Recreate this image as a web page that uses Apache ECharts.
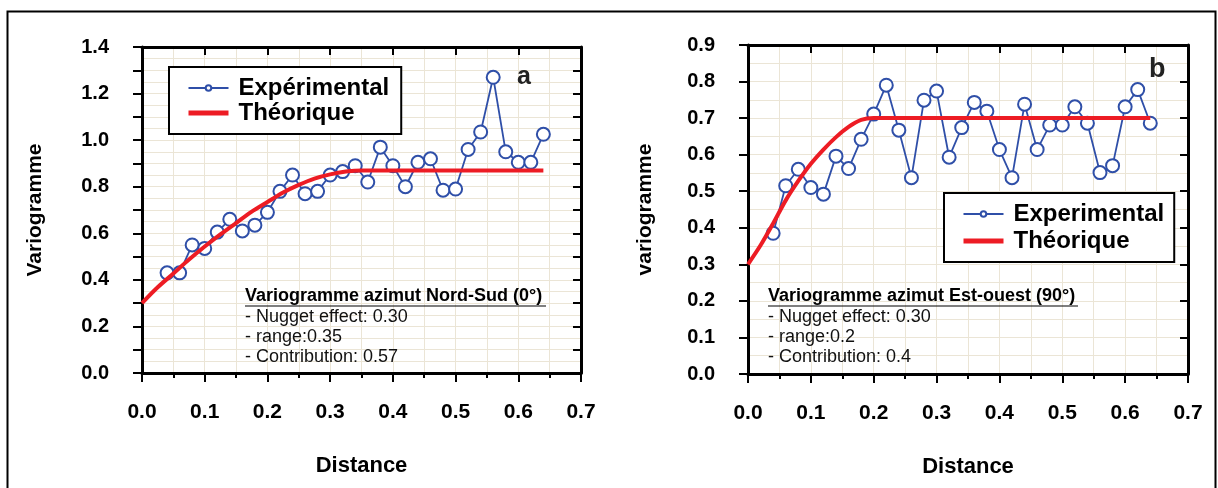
<!DOCTYPE html>
<html>
<head>
<meta charset="utf-8">
<script src="https://cdn.jsdelivr.net/npm/echarts@6/dist/echarts.min.js"></script>
<style>
html,body{margin:0;padding:0;background:#fff;}
#c{width:1218px;height:488px;}
</style>
</head>
<body>
<div id="c"></div>
<script>
// ---- data ----
const lagX = [0.04,0.06,0.08,0.10,0.12,0.14,0.16,0.18,0.20,0.22,0.24,0.26,0.28,0.30,0.32,0.34,0.36,0.38,0.40,0.42,0.44,0.46,0.48,0.50,0.52,0.54,0.56,0.58,0.60,0.62,0.64];
const expNS = [0.43,0.43,0.55,0.535,0.605,0.66,0.61,0.635,0.69,0.78,0.85,0.77,0.78,0.85,0.865,0.89,0.82,0.97,0.89,0.80,0.905,0.92,0.785,0.79,0.96,1.035,1.27,0.95,0.905,0.905,1.025];
const expEO = [0.385,0.515,0.56,0.51,0.492,0.596,0.562,0.642,0.711,0.79,0.667,0.537,0.749,0.774,0.593,0.674,0.743,0.719,0.614,0.537,0.738,0.614,0.681,0.681,0.731,0.686,0.551,0.570,0.731,0.778,0.686];
const theoXNS = [0,0.025,0.05,0.075,0.1,0.125,0.15,0.175,0.2,0.225,0.25,0.275,0.3,0.325,0.35,0.64];
const theoNS  = [0.30,0.368,0.427,0.487,0.543,0.595,0.644,0.693,0.734,0.775,0.808,0.835,0.853,0.865,0.87,0.87];
const theoXEO = [0,0.02,0.04,0.06,0.08,0.10,0.12,0.14,0.16,0.18,0.20,0.64];
const theoEO  = [0.30,0.352,0.412,0.475,0.528,0.575,0.614,0.648,0.676,0.695,0.70,0.70];
const xTicks = {min:0, max:0.7, interval:0.1};
const yTicksNS = {min:0, max:1.4, interval:0.2};
const yTicksEO = {min:0, max:0.9, interval:0.1};

const FONT = "'Liberation Sans', Arial, sans-serif";
const BLUE = '#2f4fa8';
const RED = '#ed1c24';
const GRIDC = '#ebe5d6';
const zip = (xs, ys) => xs.map((x, i) => [x, ys[i]]);

const grids = [
  {left:142, top:47, width:439, height:326},
  {left:748, top:45, width:440, height:329}
];

function xAxes(g) {
  return [
    {type:'value', gridIndex:g, position:'bottom', min:xTicks.min, max:xTicks.max, interval:xTicks.interval,
     name:'Distance', nameLocation:'middle', nameGap:82,
     nameTextStyle:{fontFamily:FONT, fontSize:22, fontWeight:'bold', color:'#000'},
     axisLine:{show:true, onZero:false, lineStyle:{color:'#000', width:3}},
     axisTick:{show:true, inside:false, length:9, lineStyle:{color:'#000', width:2}},
     minorTick:{show:true, splitNumber:2, length:5, lineStyle:{color:'#000', width:2}},
     axisLabel:{show:true, margin:29, fontFamily:FONT, fontSize:21, fontWeight:'bold', color:'#000',
       formatter:v => v.toFixed(1)},
     splitLine:{show:true, lineStyle:{color:GRIDC, width:1}},
     minorSplitLine:{show:true, lineStyle:{color:GRIDC, width:1}}
    },
    {type:'value', gridIndex:g, position:'top', min:xTicks.min, max:xTicks.max, interval:xTicks.interval,
     axisLine:{show:true, onZero:false, lineStyle:{color:'#000', width:3}},
     axisTick:{show:true, inside:true, length:8, lineStyle:{color:'#000', width:2}},
     axisLabel:{show:false}, splitLine:{show:false}
    }
  ];
}
function yAxes(g, t, name, gap) {
  return [
    {type:'value', gridIndex:g, position:'left', min:t.min, max:t.max, interval:t.interval,
     name:name, nameLocation:'middle', nameGap:gap, nameRotate:90,
     nameTextStyle:{fontFamily:FONT, fontSize:21, fontWeight:'bold', color:'#000'},
     axisLine:{show:true, onZero:false, lineStyle:{color:'#000', width:3}},
     axisTick:{show:true, inside:false, length:9, lineStyle:{color:'#000', width:2}},
     minorTick:{show: t.interval > 0.15, splitNumber:2, length:9, lineStyle:{color:'#000', width:2}},
     axisLabel:{show:true, margin:33, fontFamily:FONT, fontSize:20, fontWeight:'bold', color:'#000',
       formatter:v => v.toFixed(1)},
     splitLine:{show:false}
    },
    {type:'value', gridIndex:g, position:'right', min:t.min, max:t.max, interval:0.1,
     axisLine:{show:true, onZero:false, lineStyle:{color:'#000', width:3}},
     axisTick:{show:true, inside:true, length:8, lineStyle:{color:'#000', width:2}},
     minorTick:{show:false, splitNumber:2},
     axisLabel:{show:false},
     splitLine:{show:true, lineStyle:{color:GRIDC, width:1}},
     minorSplitLine:{show:true, lineStyle:{color:GRIDC, width:1}}
    }
  ];
}

const legendText = {fontFamily:FONT, fontSize:24, fontWeight:'bold', color:'#000', padding:[0,0,0,5]};
const theoLegendItem = {name:'Théorique', itemStyle:{opacity:0}, lineStyle:{width:5, color:RED}};

const option = {
  backgroundColor:'#fff',
  animation:false,
  grid: grids.map(g => Object.assign({outerBoundsMode:'none', containLabel:false}, g)),
  xAxis: [...xAxes(0), ...xAxes(1)],
  yAxis: [...yAxes(0, yTicksNS, 'Variogramme', 96), ...yAxes(1, yTicksEO, 'variogramme', 92)],
  legend: [
    {orient:'vertical', left:169, top:67, padding:[9,12,9,17], itemGap:1, itemWidth:40, itemHeight:7,
     borderColor:'#000', borderWidth:2, backgroundColor:'#fff', textStyle:legendText, z:20,
     data:['Expérimental', theoLegendItem]},
    {orient:'vertical', left:944, top:193, padding:[9,10,9,17], itemGap:3, itemWidth:40, itemHeight:7,
     borderColor:'#000', borderWidth:2, backgroundColor:'#fff', textStyle:legendText, z:20,
     data:['Experimental', theoLegendItem]}
  ],
  series: [
    {name:'Expérimental', type:'line', xAxisIndex:0, yAxisIndex:0, data:zip(lagX, expNS),
     symbol:'emptyCircle', symbolSize:13, lineStyle:{color:BLUE, width:1.8},
     itemStyle:{color:BLUE, borderWidth:1.8}, z:3},
    {name:'Théorique', type:'line', xAxisIndex:0, yAxisIndex:0, data:zip(theoXNS, theoNS),
     symbol:'none', smooth:0.3, lineStyle:{color:RED, width:4}, itemStyle:{color:RED}, z:4},
    {name:'Experimental', type:'line', xAxisIndex:2, yAxisIndex:2, data:zip(lagX, expEO),
     symbol:'emptyCircle', symbolSize:13, lineStyle:{color:BLUE, width:1.8},
     itemStyle:{color:BLUE, borderWidth:1.8}, z:3},
    {name:'Théorique', type:'line', xAxisIndex:2, yAxisIndex:2, data:zip(theoXEO, theoEO),
     symbol:'none', smooth:0.3, lineStyle:{color:RED, width:4}, itemStyle:{color:RED}, z:4}
  ],
  graphic: [
    {type:'rect', left:5, top:9, z:100, shape:{width:1208, height:490}, style:{fill:'none', stroke:'#000', lineWidth:2}, silent:true},
    {type:'text', left:517, top:65, z:100, style:{text:'a', font:"bold 25px " + FONT, fill:'#222'}},
    {type:'text', left:1149, top:56, z:100, style:{text:'b', font:"bold 27px " + FONT, fill:'#222'}},
    {type:'text', left:245, top:287, z:100, style:{text:'Variogramme azimut Nord-Sud (0°)', font:"bold 18px " + FONT, fill:'#000'}},
    {type:'line', z:100, shape:{x1:245, y1:306, x2:546, y2:306}, style:{stroke:'#000', lineWidth:1.2}},
    {type:'text', left:245, top:307, z:100, style:{text:'- Nugget effect: 0.30\n- range:0.35\n- Contribution: 0.57', font:"18px " + FONT, lineHeight:20, fill:'#111'}},
    {type:'text', left:768, top:287, z:100, style:{text:'Variogramme azimut Est-ouest (90°)', font:"bold 18px " + FONT, fill:'#000'}},
    {type:'line', z:100, shape:{x1:768, y1:306, x2:1078, y2:306}, style:{stroke:'#000', lineWidth:1.2}},
    {type:'text', left:768, top:307, z:100, style:{text:'- Nugget effect: 0.30\n- range:0.2\n- Contribution: 0.4', font:"18px " + FONT, lineHeight:20, fill:'#111'}}
  ]
};
const chart = echarts.init(document.getElementById('c'), null, {renderer:'canvas'});
chart.setOption(option);
</script>
</body>
</html>
